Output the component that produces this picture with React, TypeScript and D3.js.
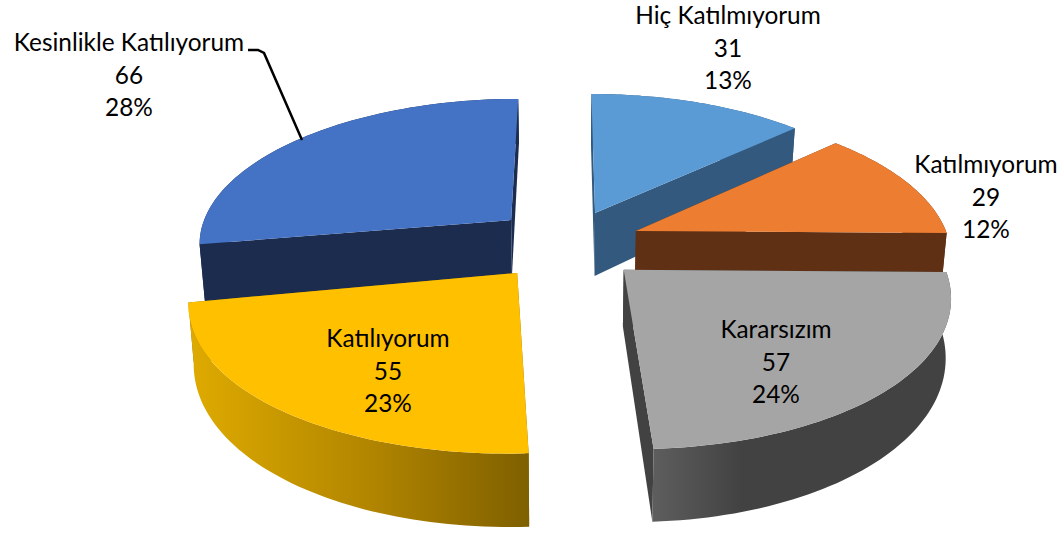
import React from "react";
import * as d3 from "d3";

const categories = ["Hiç Katılmıyorum", "Katılmıyorum", "Kararsızım", "Katılıyorum", "Kesinlikle Katılıyorum"];
const values = [31, 29, 57, 55, 66];
const percents = ["13%", "12%", "24%", "23%", "28%"];
const topColors = ["#5b9bd5", "#ed7d31", "#a5a5a5", "#ffc000", "#4472c4"];
const wallColors = ["#335a7e", "#5f3014", "#424242", "#8a6800", "#1b2c4f"];
const labelPos: [number, number][] = [[728, 17], [986, 166], [776, 331], [388, 340], [129, 44]];
const drawOrder = [0, 4, 1, 3, 2];
const nudges: [number, number][] = [[-1, -1], [-0.5, -1.5], [1, 0], [-1.5, 0], [0.5, -3]];
const wallScale = [1.2, 1, 1, 1, 1.04];
const rimPower = [1, 1, 0.98, 0.95, 1];

const W = 1061, H = 533;
const cx = 567, cy = 245, Rx = 314, Ry = 145, persp = 0.147, depth = 55, explode = 0.24, taper = 0.014;

const project = (X: number, Y: number, Z = 0): [number, number] => {
  const s = 1 / (1 + persp * Y);
  return [cx + X * Rx * s * (1 - taper * Z), cy - Y * Ry * s + Z * depth * Math.pow(s, 1.5)];
};

const arcs = d3.pie<number>().sort(null)(values);
const bulge = (v: number, p: number) => Math.sign(v) * Math.pow(Math.abs(v), p);

const slices = arcs.map((a, i) => {
  const mid = (a.startAngle + a.endAngle) / 2;
  const ox = explode * Math.sin(mid), oy = explode * Math.cos(mid);
  const n = 60;
  const angle = d3.scaleLinear().domain([0, n]).range([a.startAngle, a.endAngle]);
  const rim = d3.range(n + 1).map((k) => [
    ox + Math.sin(angle(k)),
    oy + bulge(Math.cos(angle(k)), rimPower[i]),
  ]);
  const line = d3.line();
  const z = wallScale[i];
  const at = (pts: number[][], zz: number) => pts.map((p) => project(p[0], p[1], zz));
  const top = line([project(ox, oy), ...at(rim, 0)])! + "Z";
  const outer = line([...at(rim, 0), ...at(rim, z).reverse()])! + "Z";
  const wall = (p: number[]) => line([project(ox, oy), project(p[0], p[1]), project(p[0], p[1], z), project(ox, oy, z)])! + "Z";
  return { i, top, outer, startWall: wall(rim[0]), endWall: wall(rim[n]) };
});

const leader = d3.line()([[248, 50], [258, 50], [264, 53], [302, 140]])!;

export default function App() {
  return (
    <svg width={W} height={H} style={{ position: "absolute", left: 0, top: 0, background: "#fff" }}>
      <defs>
        <linearGradient id="wall3" x1="0" x2="1" y1="0" y2="0">
          <stop offset="0" stopColor="#dfab00" />
          <stop offset="0.55" stopColor="#b08400" />
          <stop offset="1" stopColor="#7f6000" />
        </linearGradient>
        <linearGradient id="wall2" x1="0" x2="1" y1="0" y2="0">
          <stop offset="0" stopColor="#5e5e5e" />
          <stop offset="0.3" stopColor="#424242" />
          <stop offset="1" stopColor="#424242" />
        </linearGradient>
      </defs>
      {drawOrder.map((i) => {
        const s = slices[i];
        const outerFill = i === 3 ? "url(#wall3)" : i === 2 ? "url(#wall2)" : wallColors[i];
        return (
          <g key={i} transform={`translate(${nudges[i][0]},${nudges[i][1]})`}>
            <path d={s.startWall} fill={wallColors[i]} />
            <path d={s.endWall} fill={wallColors[i]} />
            <path d={s.outer} fill={outerFill} />
            <path d={s.top} fill={topColors[i]} />
          </g>
        );
      })}
      <path d={leader} fill="none" stroke="#000" strokeWidth={2.5} />
      <g fontFamily="Lato, Carlito, sans-serif" fontSize={24.4} fill="#000" textAnchor="middle">
        {categories.map((c, i) => (
          <text key={c} x={labelPos[i][0]} y={labelPos[i][1] + 7}>
            <tspan x={labelPos[i][0]}>{c}</tspan>
            <tspan x={labelPos[i][0]} dy={32.5}>{values[i]}</tspan>
            <tspan x={labelPos[i][0]} dy={32.5}>{percents[i]}</tspan>
          </text>
        ))}
      </g>
    </svg>
  );
}
